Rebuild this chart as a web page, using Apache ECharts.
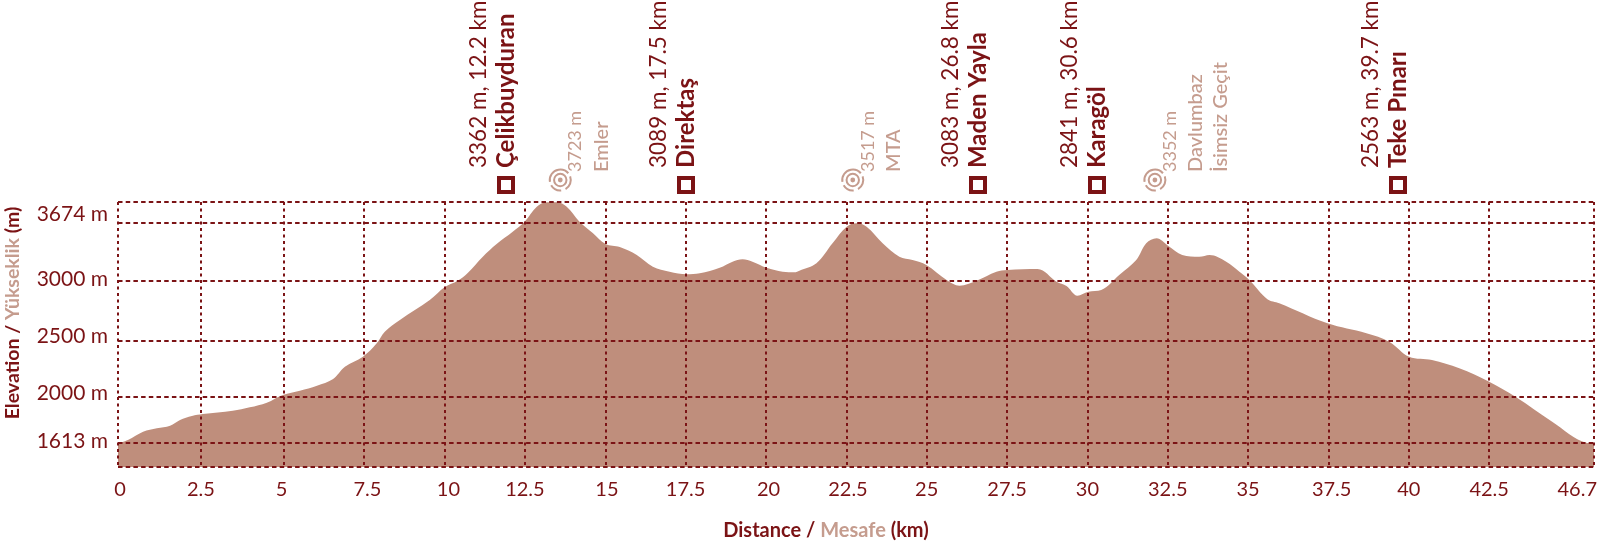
<!DOCTYPE html>
<html><head><meta charset="utf-8">
<style>html,body{margin:0;padding:0;background:#fff}#c{width:1600px;height:544px}</style>
<script src="https://cdn.jsdelivr.net/npm/echarts@6/dist/echarts.min.js"></script>
</head><body><div id="c"></div>
<script>
// profile as drawn: [axis km, axis m]
const profileKm = [-0.16,0.15,0.62,1.05,1.46,1.77,2.14,2.48,3.41,3.94,4.47,4.97,5.5,6.03,6.52,6.9,7.46,7.89,8.14,8.61,9.54,10.01,10.41,10.72,11.19,11.62,12.12,12.49,12.87,13.18,13.49,13.8,14.2,14.61,15.01,15.45,15.98,16.48,17.0,17.53,17.94,18.56,18.96,19.27,19.58,20.02,20.52,20.89,21.04,21.57,22.07,22.51,22.82,23.13,23.63,24.15,24.56,24.99,25.62,26.02,26.55,27.17,27.51,28.45,29.04,29.35,29.69,30.03,30.43,30.99,31.52,31.83,32.15,32.52,32.95,33.48,33.8,34.32,34.73,35.04,35.6,35.97,37.47,38.68,39.39,40.01,40.72,41.57,42.5,43.34,44.46,45.52,45.76];
const profileElev = [1608,1636,1707,1737,1759,1808,1842,1859,1887,1916,1956,2022,2058,2101,2156,2264,2349,2464,2563,2664,2835,2946,3000,3066,3205,3314,3419,3505,3633,3671,3671,3633,3505,3408,3314,3288,3220,3120,3077,3055,3063,3111,3163,3183,3163,3111,3077,3072,3086,3149,3320,3462,3491,3462,3320,3205,3177,3134,3006,2957,3000,3077,3092,3100,2991,2955,2872,2906,2920,3049,3177,3320,3363,3297,3220,3205,3220,3163,3077,3006,2841,2807,2635,2550,2478,2349,2321,2250,2135,2002,1793,1613,1608];

const xGridValues = [-0.16,2.42,5,7.5,10,12.5,15,17.5,20,22.5,25,27.5,30,32.5,35,37.5,40,42.5,45.76];
const xLabelValues = [-0.1,2.42,4.93,7.6,10.12,12.5,15.05,17.5,20.08,22.55,25,27.5,30,32.5,35,37.6,40,42.5,45.24];
const xLabelTexts = ['0','2.5','5','7.5','10','12.5','15','17.5','20','22.5','25','27.5','30','32.5','35','37.5','40','42.5','46.7'];

const yGridValues = [1405,1613,2004,2486,3000,3496,3674];
const yLabelValues = [1622,2039,2527,3015,3571];
const yLabelTexts = ['1613 m','2000 m','2500 m','3000 m','3674 m'];

const stopNames = ['Çelikbuyduran','Direktaş','Maden Yayla','Karagöl','Teke Pınarı'];
const stopInfo = ['3362 m, 12.2 km','3089 m, 17.5 km','3083 m, 26.8 km','2841 m, 30.6 km','2563 m, 39.7 km'];
const stopKm = [11.9,17.5,26.6,30.3,39.67];

const summitNames = ['Emler','MTA','Davlumbaz\nİsimsiz Geçit'];
const summitInfo = ['3723 m','3517 m','3352 m'];
const summitKm = [13.6,22.7,32.1];

const DARK = '#7b1315', FILL = '#bf8e7c', LIGHT = '#c59c8e', FF = 'Lato, sans-serif';

const chart = echarts.init(document.getElementById('c'), null, {renderer:'canvas'});
const rad = d => d*Math.PI/180;
const vtext = (x,y,text,size,weight,color) => ({type:'text',x,y,rotation:Math.PI/2,
  style:{text,fontFamily:FF,fontSize:size,fontWeight:weight,fill:color,align:'left',verticalAlign:'middle'}});

chart.setOption({
  animation:false,
  backgroundColor:'#fff',
  grid:{left:118,right:5,top:202,bottom:77,containLabel:false},
  xAxis:{type:'value',min:xGridValues[0],max:xGridValues[xGridValues.length-1],z:10,
    axisLine:{show:false},
    axisTick:{show:false,customValues:xGridValues},
    splitLine:{show:true,lineStyle:{color:DARK,width:2,type:[3,3.5]}},
    axisLabel:{customValues:xLabelValues,margin:13,color:DARK,fontFamily:FF,fontSize:20,fontWeight:400,
      showMinLabel:true,showMaxLabel:true,hideOverlap:false,
      formatter:v=>xLabelTexts[xLabelValues.indexOf(v)]}},
  yAxis:{type:'value',min:yGridValues[0],max:yGridValues[yGridValues.length-1],z:10,
    axisLine:{show:false},
    axisTick:{show:false,customValues:yGridValues},
    splitLine:{show:true,lineStyle:{color:DARK,width:2,type:[4.5,3.2]}},
    axisLabel:{customValues:yLabelValues,margin:10,color:DARK,fontFamily:FF,fontSize:21,fontWeight:400,
      formatter:v=>yLabelTexts[yLabelValues.indexOf(v)]}},
  series:[
    {type:'line',data:profileKm.map((k,i)=>[k,profileElev[i]]),symbol:'none',smooth:0.35,
     lineStyle:{width:0},areaStyle:{color:FILL,opacity:1,origin:'start'},z:2,silent:true},
    {type:'custom',coordinateSystem:'cartesian2d',clip:false,z:20,silent:true,
     data:stopKm.map((k,i)=>[k,yGridValues[yGridValues.length-1],i]),
     renderItem(p,api){
       const i=api.value(2), c=api.coord([api.value(0),api.value(1)]), x=Math.round(c[0]);
       return {type:'group',children:[
         {type:'rect',shape:{x:x-7,y:178,width:14,height:14},style:{fill:'none',stroke:DARK,lineWidth:4}},
         vtext(x-27,168,stopInfo[i],22.5,400,DARK),
         vtext(x,168,stopNames[i],24,700,DARK)
       ]};
     }},
    {type:'custom',coordinateSystem:'cartesian2d',clip:false,z:20,silent:true,
     data:summitKm.map((k,i)=>[k,yGridValues[yGridValues.length-1],i]),
     renderItem(p,api){
       const i=api.value(2), c=api.coord([api.value(0),api.value(1)]), x=c[0], y=180;
       const arc=(r,a,b,w)=>({type:'arc',shape:{cx:x,cy:y,r,startAngle:rad(a),endAngle:rad(b),clockwise:true},
         style:{fill:null,stroke:LIGHT,lineWidth:w}});
       const kids=[
         {type:'circle',shape:{cx:x,cy:y,r:2.4},style:{fill:LIGHT}},
         arc(6.2,0,360,2),
         arc(10.5,-20,60,2), arc(10.5,85,150,2), arc(10.5,170,320,2),
         vtext(x+15,172,summitInfo[i],18,400,LIGHT)
       ];
       summitNames[i].split('\n').forEach((t,j)=>kids.push(vtext(x+41+j*25,172,t,20,500,LIGHT)));
       return {type:'group',children:kids};
     }}
  ],
  graphic:[
    {type:'text',x:13,y:313,rotation:Math.PI/2,silent:true,
     style:{text:'{a|Elevation / }{b|Yükseklik }{a|(m)}',align:'center',verticalAlign:'middle',
       rich:{a:{fontFamily:FF,fontSize:19.5,fontWeight:700,fill:DARK,color:DARK},b:{fontFamily:FF,fontSize:19.5,fontWeight:700,fill:LIGHT,color:LIGHT}}}},
    {type:'text',x:826,y:531,silent:true,
     style:{text:'{a|Distance / }{b|Mesafe }{a|(km)}',align:'center',verticalAlign:'middle',
       rich:{a:{fontFamily:FF,fontSize:20,fontWeight:700,fill:DARK,color:DARK},b:{fontFamily:FF,fontSize:20,fontWeight:700,fill:LIGHT,color:LIGHT}}}}
  ]
});
</script></body></html>
